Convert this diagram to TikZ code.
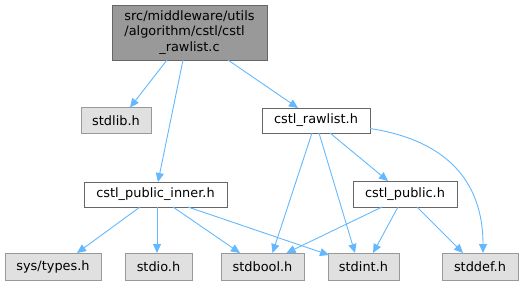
\documentclass[tikz,border=0pt]{standalone}
\usepackage{fontspec}
\setmainfont{DejaVu Sans}
\usetikzlibrary{arrows.meta}
\definecolor{edgeblue}{HTML}{63B8FF}
\definecolor{gryfill}{HTML}{E0E0E0}
\definecolor{gryline}{HTML}{999999}
\definecolor{darkline}{HTML}{666666}
\begin{document}
\begin{tikzpicture}[x=1pt,y=-1pt,
  every node/.style={font=\fontsize{12.9}{15.5}\selectfont, inner sep=0pt, outer sep=0pt},
  sysbox/.style={draw=gryline, fill=gryfill, line width=1pt, rectangle, minimum height=26pt},
  filebox/.style={draw=darkline, fill=white, line width=1pt, rectangle, minimum height=25pt},
  mainbox/.style={draw=darkline, fill=gryline, line width=1pt, rectangle, minimum width=155pt, minimum height=55pt},
  edge/.style={draw=edgeblue, line width=0.9pt, -{Triangle[length=9pt,width=8pt]}}
]
\useasboundingbox (0,0) rectangle (523,285);
\node[mainbox] (main) at (189.5,32.5) {\begin{tabular}{@{}l@{}}src/middleware/utils\\/algorithm/cstl/cstl\\\multicolumn{1}{@{}c@{}}{\_rawlist.c}\end{tabular}};
\node[sysbox, minimum width=70pt] (stdlib) at (116,120.5) {stdlib.h};
\node[filebox, minimum width=108pt] (rawlist) at (316,120.5) {cstl\_rawlist.h};
\node[filebox, minimum width=143pt] (inner) at (155.5,194.5) {cstl\_public\_inner.h};
\node[filebox, minimum width=104pt, minimum height=26pt] (public) at (405,194) {cstl\_public.h};
\node[sysbox, minimum width=96pt, minimum height=27pt] (systypes) at (53,266.5) {sys/types.h};
\node[sysbox, minimum width=67pt, minimum height=27pt] (stdio) at (158.5,266.5) {stdio.h};
\node[sysbox, minimum width=83pt, minimum height=27pt] (stdbool) at (262.5,266.5) {stdbool.h};
\node[sysbox, minimum width=71pt, minimum height=27pt] (stdint) at (363.5,266.5) {stdint.h};
\node[sysbox, minimum width=76pt, minimum height=27pt] (stddef) at (480,266.5) {stddef.h};

\draw[edge] ([xshift=-22.5pt]main.south) -- ([xshift=14pt]stdlib.north);
\draw[edge] ([xshift=-6.5pt]main.south) -- ([xshift=2.5pt]inner.north);
\draw[edge] ([xshift=38.5pt]main.south) -- ([xshift=-18pt]rawlist.north);

\draw[edge] ([xshift=-4pt]rawlist.south) -- ([xshift=10pt]stdbool.north);
\draw[edge] ([xshift=3pt]rawlist.south) -- ([xshift=-8.5pt]stdint.north);
\draw[edge] ([xshift=14pt]rawlist.south) -- ([xshift=-17pt]public.north);
\draw[edge] ([yshift=-8pt]rawlist.east) .. controls (445,140) and (483,180) .. ([xshift=3pt]stddef.north);

\draw[edge] ([xshift=-23pt]public.south) -- ([xshift=24pt]stdbool.north);
\draw[edge] ([xshift=-7pt]public.south) -- ([xshift=9.5pt]stdint.north);
\draw[edge] ([xshift=12pt]public.south) -- ([xshift=-17pt]stddef.north);

\draw[edge] ([xshift=-15.5pt]inner.south) -- ([xshift=24pt]systypes.north);
\draw[edge] ([xshift=1.5pt]inner.south) -- ([xshift=-1.5pt]stdio.north);
\draw[edge] ([xshift=17.5pt]inner.south) -- ([xshift=-22.5pt]stdbool.north);
\draw[edge] ([xshift=32.5pt]inner.south) -- ([xshift=1pt,yshift=-2pt]stdint.north west);
\end{tikzpicture}
\end{document}
